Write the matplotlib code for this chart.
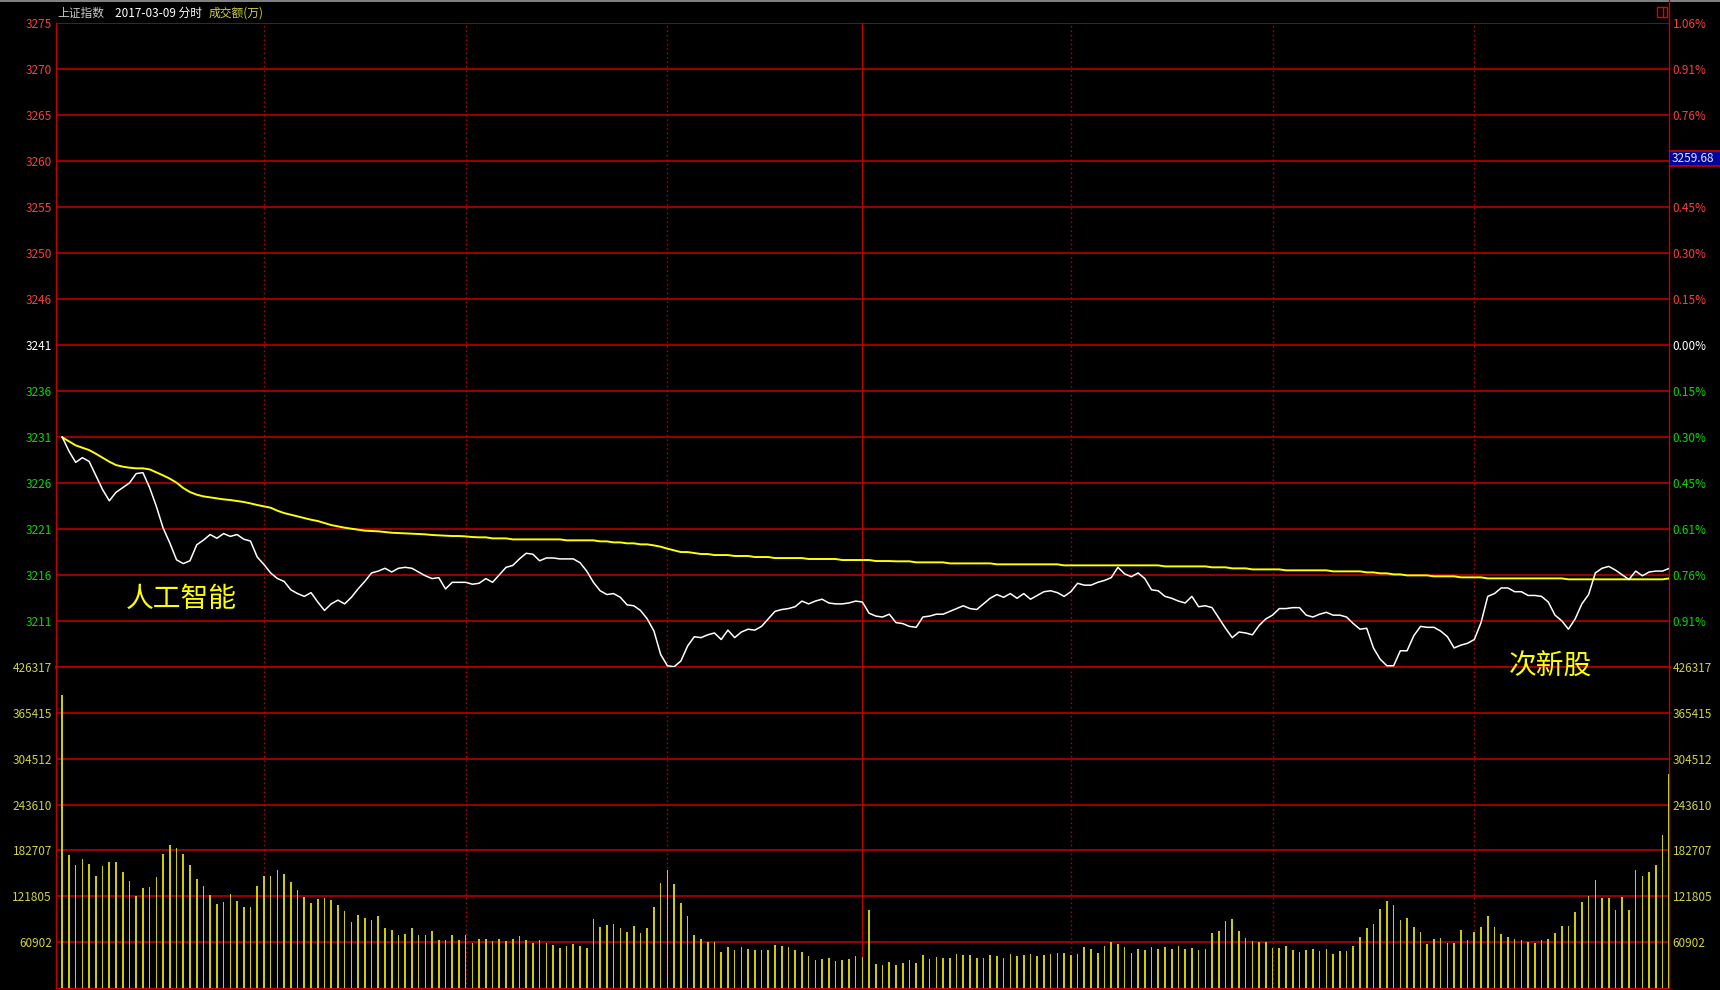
import numpy as np
import matplotlib.pyplot as plt
from matplotlib.lines import Line2D
from matplotlib.patches import Rectangle

plt.rcParams['font.family'] = ['Noto Sans CJK SC', 'DejaVu Sans']

W, H = 1720, 990
RED = '#c40000'
LBL_RED = '#ff3b3b'
LBL_GREEN = '#00dc00'
LBL_YEL = '#d2d23c'
BAR_YEL = '#cccc00'

# 分时数据 (1..240 分钟)
price = [
    3230.8, 3229.3, 3228.1, 3228.6, 3228.2, 3226.7, 3225.2, 3224.0, 3224.9, 3225.4,
    3225.9, 3226.9, 3227.0, 3225.4, 3223.4, 3221.1, 3219.5, 3217.7, 3217.3, 3217.6,
    3219.3, 3219.8, 3220.4, 3220.0, 3220.5, 3220.2, 3220.4, 3219.9, 3219.7, 3218.0,
    3217.2, 3216.3, 3215.7, 3215.4, 3214.5, 3214.1, 3213.8, 3214.2, 3213.2, 3212.3,
    3213.0, 3213.4, 3213.0, 3213.7, 3214.6, 3215.4, 3216.3, 3216.5, 3216.8, 3216.4,
    3216.8, 3216.9, 3216.8, 3216.4, 3216.0, 3215.7, 3215.8, 3214.6, 3215.3, 3215.3,
    3215.3, 3215.1, 3215.2, 3215.7, 3215.3, 3216.1, 3216.9, 3217.1, 3217.8, 3218.4,
    3218.3, 3217.6, 3217.9, 3217.9, 3217.8, 3217.8, 3217.8, 3217.4, 3216.5, 3215.3,
    3214.4, 3214.0, 3214.1, 3213.7, 3212.9, 3212.8, 3212.3, 3211.4, 3210.1, 3207.6,
    3206.4, 3206.3, 3206.9, 3208.5, 3209.5, 3209.4, 3209.7, 3209.9, 3209.2, 3210.2,
    3209.4, 3210.0, 3210.3, 3210.2, 3210.6, 3211.4, 3212.2, 3212.4, 3212.5, 3212.7,
    3213.3, 3213.0, 3213.3, 3213.5, 3213.1, 3213.0, 3213.0, 3213.1, 3213.3, 3213.2,
    3212.0, 3211.7, 3211.6, 3211.9, 3211.0, 3210.9, 3210.6, 3210.5, 3211.6, 3211.7,
    3211.9, 3211.9, 3212.2, 3212.5, 3212.8, 3212.5, 3212.4, 3213.0, 3213.6, 3214.0,
    3213.7, 3214.1, 3213.6, 3214.1, 3213.5, 3213.9, 3214.3, 3214.4, 3214.2, 3213.8,
    3214.3, 3215.2, 3215.0, 3215.0, 3215.3, 3215.5, 3215.8, 3216.9, 3216.2, 3215.9,
    3216.3, 3215.7, 3214.5, 3214.4, 3213.8, 3213.6, 3213.3, 3213.1, 3213.8, 3212.7,
    3212.8, 3212.6, 3211.5, 3210.4, 3209.4, 3210.0, 3209.9, 3209.7, 3210.7, 3211.4,
    3211.8, 3212.5, 3212.5, 3212.6, 3212.6, 3211.8, 3211.6, 3211.9, 3212.1, 3211.8,
    3211.8, 3211.6, 3210.9, 3210.3, 3210.4, 3208.3, 3207.1, 3206.4, 3206.4, 3208.0,
    3208.0, 3209.6, 3210.6, 3210.5, 3210.5, 3210.1, 3209.5, 3208.3, 3208.6, 3208.8,
    3209.2, 3211.0, 3213.8, 3214.1, 3214.7, 3214.7, 3214.3, 3214.3, 3213.9, 3213.9,
    3213.8, 3213.2, 3211.8, 3211.2, 3210.3, 3211.4, 3213.0, 3214.0, 3216.3, 3216.8,
    3217.0, 3216.6, 3216.1, 3215.6, 3216.5, 3216.0, 3216.4, 3216.5, 3216.5, 3216.8,
]

avg_price = [
    3230.77, 3230.34, 3229.91, 3229.66, 3229.41, 3229.02, 3228.60, 3228.17, 3227.81, 3227.64,
    3227.53, 3227.46, 3227.46, 3227.35, 3227.03, 3226.71, 3226.36, 3225.93, 3225.36, 3224.93,
    3224.65, 3224.47, 3224.36, 3224.26, 3224.15, 3224.08, 3223.97, 3223.87, 3223.72, 3223.55,
    3223.40, 3223.26, 3222.94, 3222.69, 3222.51, 3222.34, 3222.16, 3221.98, 3221.84, 3221.63,
    3221.41, 3221.27, 3221.13, 3221.02, 3220.91, 3220.81, 3220.77, 3220.74, 3220.67, 3220.59,
    3220.56, 3220.52, 3220.49, 3220.45, 3220.42, 3220.35, 3220.31, 3220.27, 3220.24, 3220.24,
    3220.20, 3220.13, 3220.10, 3220.10, 3219.99, 3219.99, 3219.99, 3219.88, 3219.88, 3219.88,
    3219.88, 3219.88, 3219.88, 3219.88, 3219.88, 3219.78, 3219.78, 3219.78, 3219.78, 3219.78,
    3219.67, 3219.67, 3219.56, 3219.56, 3219.46, 3219.46, 3219.35, 3219.35, 3219.24, 3219.10,
    3218.89, 3218.71, 3218.53, 3218.53, 3218.43, 3218.32, 3218.32, 3218.21, 3218.21, 3218.21,
    3218.11, 3218.11, 3218.11, 3218.00, 3218.00, 3218.00, 3217.89, 3217.89, 3217.89, 3217.89,
    3217.89, 3217.79, 3217.79, 3217.79, 3217.79, 3217.79, 3217.68, 3217.68, 3217.68, 3217.68,
    3217.68, 3217.57, 3217.57, 3217.57, 3217.54, 3217.54, 3217.54, 3217.43, 3217.43, 3217.43,
    3217.43, 3217.43, 3217.32, 3217.32, 3217.32, 3217.32, 3217.32, 3217.32, 3217.32, 3217.22,
    3217.22, 3217.22, 3217.22, 3217.22, 3217.22, 3217.22, 3217.22, 3217.22, 3217.22, 3217.11,
    3217.11, 3217.11, 3217.11, 3217.11, 3217.11, 3217.11, 3217.11, 3217.11, 3217.11, 3217.11,
    3217.11, 3217.11, 3217.11, 3217.11, 3217.00, 3217.00, 3217.00, 3217.00, 3217.00, 3217.00,
    3217.00, 3216.90, 3216.90, 3216.90, 3216.79, 3216.79, 3216.79, 3216.68, 3216.68, 3216.68,
    3216.68, 3216.68, 3216.58, 3216.58, 3216.58, 3216.58, 3216.58, 3216.58, 3216.58, 3216.47,
    3216.47, 3216.47, 3216.47, 3216.47, 3216.36, 3216.36, 3216.26, 3216.26, 3216.15, 3216.15,
    3216.04, 3216.04, 3216.04, 3216.04, 3215.94, 3215.94, 3215.94, 3215.94, 3215.83, 3215.83,
    3215.83, 3215.83, 3215.72, 3215.72, 3215.72, 3215.72, 3215.72, 3215.72, 3215.72, 3215.72,
    3215.72, 3215.72, 3215.72, 3215.72, 3215.62, 3215.62, 3215.62, 3215.62, 3215.62, 3215.62,
    3215.62, 3215.62, 3215.62, 3215.62, 3215.62, 3215.62, 3215.62, 3215.62, 3215.62, 3215.72,
]

amount = [
    388300, 176500, 163200, 171200, 164600, 148700, 161900, 167200, 167200, 154000,
    142100, 122300, 132400, 134100, 147400, 177800, 189700, 185700, 177800, 163200,
    144300, 135400, 123500, 111600, 114300, 124900, 115600, 107600, 107600, 135400,
    148700, 148700, 156600, 151300, 140700, 130100, 120900, 112900, 118200, 119500,
    116900, 110300, 102300, 87800, 97000, 93100, 90400, 95700, 79800, 77200,
    70600, 71900, 79800, 70600, 70600, 75900, 63900, 63900, 70600, 63900,
    70600, 60000, 65300, 65300, 62600, 65300, 62600, 65300, 69200, 63900,
    60000, 63900, 60000, 57300, 53400, 56000, 58700, 56000, 53400, 91700,
    81200, 83800, 85100, 79800, 74600, 82500, 73200, 79800, 107600, 139400,
    156600, 138100, 112900, 95700, 70600, 65300, 61300, 61300, 48100, 54700,
    50700, 54700, 52100, 50700, 50700, 50700, 57300, 56000, 54700, 50700,
    48100, 42800, 37500, 38800, 40100, 36100, 37500, 38800, 42800, 41400,
    103600, 32200, 30900, 34800, 30900, 33500, 37500, 33500, 44100, 38800,
    41400, 40100, 40100, 45400, 44100, 44100, 40100, 40100, 44100, 42800,
    40100, 45400, 42800, 44100, 45400, 42800, 44100, 45400, 46800, 46800,
    44100, 45400, 54700, 52100, 46800, 56000, 61300, 58700, 54700, 46800,
    52100, 50700, 54700, 52100, 54700, 52100, 56000, 52100, 53400, 50700,
    52100, 73200, 75900, 89100, 91700, 75900, 66600, 62600, 61300, 61300,
    53400, 53400, 56000, 50700, 48100, 50700, 52100, 49400, 52100, 45400,
    49400, 49400, 56000, 67900, 79800, 85100, 105000, 115600, 110300, 90400,
    93100, 81200, 74600, 58700, 65300, 66600, 60000, 60000, 77200, 63900,
    74600, 81200, 95700, 81200, 71900, 67900, 65300, 63900, 61300, 60000,
    63900, 65300, 73200, 82500, 82500, 101000, 114300, 122300, 143400, 119500,
    119500, 103600, 120900, 103600, 156600, 148700, 154000, 163200, 202900, 283700,
]

price_labels = ['3211', '3216', '3221', '3226', '3231', '3236', '3241',
                '3246', '3250', '3255', '3260', '3265', '3270', '3275']
# the 0.61% label at the 3260 level is covered by the current-price box
pct_labels = ['0.91%', '0.76%', '0.61%', '0.45%', '0.30%', '0.15%', '0.00%',
              '0.15%', '0.30%', '0.45%', '', '0.76%', '0.91%', '1.06%']
vol_labels = ['60902', '121805', '182707', '243610', '304512', '365415', '426317']
vol_ticks = [60902, 121805, 182707, 243610, 304512, 365415, 426317]
PRICE_LO, PRICE_HI = 3206.3, 3275.0
VOL_MAX = 426317
dotted_x = [31, 61, 91, 151, 181, 211]
solid_x = [120]

minutes = np.arange(1, 241)


def fx(px):
    return px / W


def fy(py):
    return 1 - py / H


fig = plt.figure(figsize=(W / 100, H / 100), dpi=100, facecolor='black')

x0, x1 = 55.5, 1669.3
y_top, y_mid, y_bot = 22.7, 666.7, 988.3
ax = fig.add_axes([fx(x0), fy(y_mid), fx(x1) - fx(x0), fy(y_top) - fy(y_mid)])
axv = fig.add_axes([fx(x0), fy(y_bot), fx(x1) - fx(x0), fy(y_mid) - fy(y_bot)])

for a in (ax, axv):
    a.set_facecolor('black')
    a.set_xlim(0, 240)
    a.set_xticks([])
    for s in a.spines.values():
        s.set_color(RED)
        s.set_linewidth(1.0)
    for xv in dotted_x:
        a.axvline(xv, color=RED, lw=1.0, ls=(0, (1, 2.2)), zorder=1)
    for xv in solid_x:
        a.axvline(xv, color=RED, lw=1.0, zorder=1)

# price pane
ax.set_ylim(PRICE_LO, PRICE_HI)
ticks = np.linspace(PRICE_LO, PRICE_HI, 15)[1:]
for t in ticks:
    ax.axhline(t, color=RED, lw=1.1, zorder=1)
ax.set_yticks(ticks)
ax.set_yticklabels(price_labels)
ax.tick_params(axis='y', length=0, pad=2.5, labelsize=8.5)
ax.spines['top'].set_visible(False)
ax.spines['bottom'].set_linewidth(2.0)

axr = ax.twinx()
axr.set_ylim(PRICE_LO, PRICE_HI)
axr.set_yticks(ticks)
axr.set_yticklabels(pct_labels)
axr.tick_params(axis='y', length=0, pad=2.5, labelsize=8.5)
for s in axr.spines.values():
    s.set_visible(False)

for tl_set in (ax.get_yticklabels(), axr.get_yticklabels()):
    for i, tl in enumerate(tl_set):
        tl.set_color(LBL_GREEN if i < 6 else ('white' if i == 6 else LBL_RED))

ax.plot(minutes, avg_price, color='#ffff00', lw=1.4, zorder=3)
ax.plot(minutes, price, color='white', lw=1.1, zorder=4)

# volume pane
axv.set_ylim(0, VOL_MAX)
for t in vol_ticks:
    axv.axhline(t, color=RED, lw=1.1, zorder=1)
axv.set_yticks(vol_ticks)
axv.set_yticklabels(vol_labels)
axv.tick_params(axis='y', length=0, pad=2.5, labelsize=8.5, labelcolor=LBL_YEL)
axv.spines['top'].set_visible(False)
axvr = axv.twinx()
axvr.set_ylim(0, VOL_MAX)
axvr.set_yticks(vol_ticks)
axvr.set_yticklabels(vol_labels)
axvr.tick_params(axis='y', length=0, pad=2.5, labelsize=8.5, labelcolor=LBL_YEL)
for s in axvr.spines.values():
    s.set_visible(False)
axv.bar(minutes, amount, width=0.24, color=BAR_YEL, zorder=3)

# frame lines outside the panes
fig.add_artist(Line2D([0, 1], [fy(0.6), fy(0.6)], color='#9a9a9a', lw=1.2))
fig.add_artist(Line2D([fx(x1), fx(x1)], [fy(0), fy(y_top)], color=RED, lw=1.0))

# header
fig.text(fx(57), fy(13), '上证指数', color='#c8c8c8', fontsize=8.5, va='center')
fig.text(fx(115), fy(13), '2017-03-09 分时', color='white', fontsize=8.5, va='center')
fig.text(fx(209), fy(13), '成交额(万)', color=LBL_YEL, fontsize=8.5, va='center')

# small icon at top right
fig.add_artist(Rectangle((fx(1657), fy(16.5)), fx(10), fy(7) - fy(16.5),
                         fill=False, edgecolor='#e00000', lw=1.0))
fig.add_artist(Line2D([fx(1663), fx(1663)], [fy(7), fy(16.5)], color='#e00000', lw=1.0))

# current price box on the right
fig.add_artist(Rectangle((fx(1670), fy(165.7)), fx(W - 1670), fy(150.7) - fy(165.7),
                         facecolor='#0000a0', edgecolor='none'))
fig.add_artist(Line2D([fx(1670), 1], [fy(150.7), fy(150.7)], color=RED, lw=1.2))
fig.add_artist(Line2D([fx(1670), 1], [fy(165.7), fy(165.7)], color=RED, lw=1.2))
fig.text(fx(1672), fy(158.2), '3259.68', color='#e8e8e8', fontsize=8.5, va='center')

# annotations
fig.text(fx(181), fy(599), '人工智能', color='#ffff00', fontsize=20, ha='center', va='center', zorder=10)
fig.text(fx(1550), fy(667), '次新股', color='#ffff00', fontsize=20, ha='center', va='center', zorder=10)

fig.savefig('out.png', dpi=100, facecolor='black')
